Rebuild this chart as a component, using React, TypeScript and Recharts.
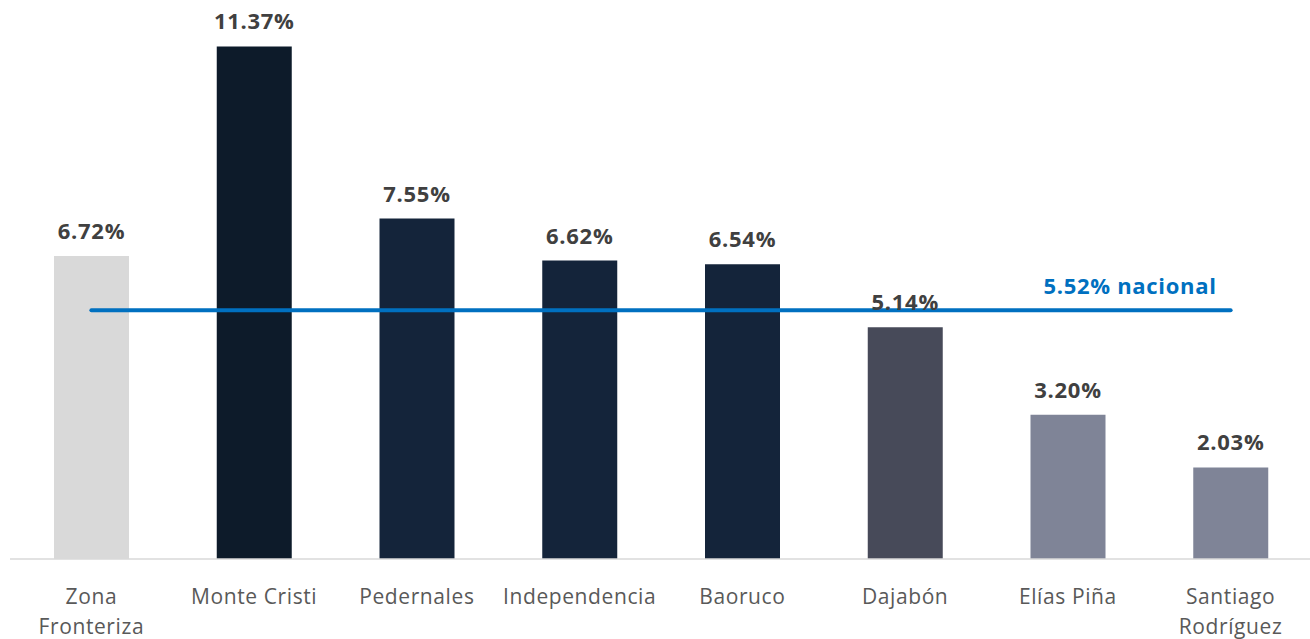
import React from "react";
import { ComposedChart, Bar, Line, XAxis, YAxis, Cell, LabelList } from "recharts";

const categories = [
  "Zona Fronteriza",
  "Monte Cristi",
  "Pedernales",
  "Independencia",
  "Baoruco",
  "Dajabón",
  "Elías Piña",
  "Santiago Rodríguez",
];
const tasa = [6.72, 11.37, 7.55, 6.62, 6.54, 5.14, 3.2, 2.03];
const nacional = 5.52;
const colores = ["#D9D9D9", "#0D1B2A", "#14243A", "#14243A", "#14243A", "#474A59", "#7F8497", "#7F8497"];
// categorías que se parten en dos líneas
const dosLineas = ["Zona Fronteriza", "Santiago Rodríguez"];

const data = categories.map((name, i) => ({ name, tasa: tasa[i], nacional }));

const FONT = "'Open Sans', 'Noto Sans', sans-serif";

const CategoryTick = (props: any) => {
  const { x, y, payload } = props;
  const value = String(payload.value);
  const lines = dosLineas.includes(value) ? value.split(" ") : [value];
  return (
    <text x={x} y={y + 37} textAnchor="middle" fill="#595959" fontSize={21} letterSpacing={0.6} fontFamily={FONT}>
      {lines.map((l: string, i: number) => (
        <tspan key={i} x={x} dy={i === 0 ? 0 : 30}>
          {l}
        </tspan>
      ))}
    </text>
  );
};

const ValueLabel = (props: any) => {
  const { x, y, width, value } = props;
  return (
    <text x={x + width / 2} y={y - 17} textAnchor="middle" fill="#404040" fontSize={22} letterSpacing={0.7} fontWeight={700} fontFamily={FONT}>
      {value.toFixed(2)}%
    </text>
  );
};

const NacionalLabel = (props: any) => {
  const { x, y, index } = props;
  if (index !== categories.length - 1) return null;
  return (
    <text x={x - 14} y={y - 16} textAnchor="end" fill="#0070C0" fontSize={22} letterSpacing={0.7} fontWeight={700} fontFamily={FONT}>
      {nacional.toFixed(2)}% nacional
    </text>
  );
};

export default function App() {
  return (
    <div style={{ position: "absolute", left: 0, top: 0, width: 1310, height: 639, overflow: "hidden", background: "#fff" }}>
      <ComposedChart width={1312} height={639} data={data} margin={{ top: 18, right: 0, bottom: 0, left: 10 }}>
        <XAxis
          dataKey="name"
          height={80}
          interval={0}
          axisLine={{ stroke: "#D9D9D9", strokeWidth: 1.5 }}
          tickLine={false}
          tick={<CategoryTick />}
        />
        <YAxis hide domain={[0, 12]} />
        <Bar dataKey="tasa" barSize={75} isAnimationActive={false}>
          {data.map((d, i) => (
            <Cell key={d.name} fill={colores[i]} />
          ))}
          <LabelList dataKey="tasa" content={<ValueLabel />} />
        </Bar>
        <Line
          dataKey="nacional"
          type="linear"
          stroke="#0070C0"
          strokeWidth={4}
          strokeLinecap="round"
          dot={false}
          activeDot={false}
          isAnimationActive={false}
          label={<NacionalLabel />}
        />
      </ComposedChart>
    </div>
  );
}
